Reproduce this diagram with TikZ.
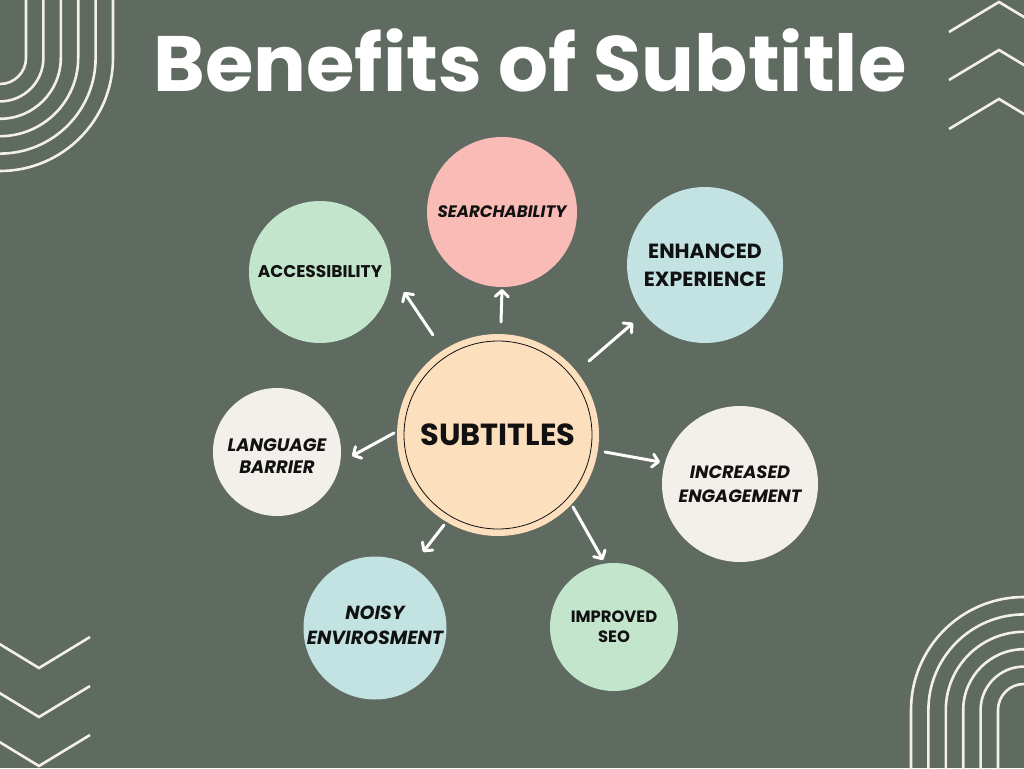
\documentclass[tikz,border=0pt]{standalone}
\usepackage{fontspec}
\setmainfont{Poppins}
\usetikzlibrary{arrows.meta}
\definecolor{bg}{HTML}{5F6A60}
\definecolor{cream}{HTML}{F3EFEA}
\definecolor{mint}{HTML}{C3E5CC}
\definecolor{pink}{HTML}{F9BBB6}
\definecolor{aqua}{HTML}{C3E3E2}
\definecolor{peach}{HTML}{FCDFBD}
\definecolor{ink}{HTML}{111111}
\tikzset{
  deco/.style={draw=cream, line width=2.6pt},
  bub/.style={circle, inner sep=0pt, align=center, text=ink, font=\bfseries},
  arr/.style={draw=white, line width=3pt, line cap=round,
    -{Straight Barb[length=6pt,width=13pt,round]}},
}
\begin{document}
\begin{tikzpicture}[x=1pt,y=-1pt]
\useasboundingbox (0,0) rectangle (1024,768);
\fill[bg] (0,0) rectangle (1024,768);
\begin{scope}
\clip (0,0) rectangle (1024,768);
\foreach \r in {26,43.4,60.8,78.2,95.6,113}{
  \draw[deco] (\r,-5) -- (\r,58) arc[start angle=0,end angle=90,radius=\r];
  \draw[deco] (1024-\r,775) -- (1024-\r,710) arc[start angle=180,end angle=270,radius=\r];
}
\foreach \a in {2,50,99}{
  \draw[deco] (949,\a+30) -- (999,\a) -- (1049,\a+30);
}
\foreach \a in {668,717,766}{
  \draw[deco] (-12,\a-31) -- (39,\a) -- (90,\a-31);
}
\end{scope}

\node[text=white, font=\fontsize{78.5}{84}\selectfont\bfseries] (title) at (530,60) {Benefits of Subtitle};

\node[circle, fill=peach, minimum size=202pt] (sub) at (498,435) {};
\node[bub, draw=ink, line width=0.8pt, minimum size=188pt, font=\fontsize{30.5}{34}\selectfont\bfseries] (subt) at (498,435) {SUBTITLES};

\node[bub, fill=mint, minimum size=142pt, font=\fontsize{17}{20}\selectfont\bfseries] (acc) at (320,272) {ACCESSIBILITY};
\node[bub, fill=pink, minimum size=150pt, font=\fontsize{16.6}{20}\selectfont\bfseries\itshape] (sea) at (502,212) {SEARCHABILITY};
\node[bub, fill=aqua, minimum size=156pt, font=\fontsize{20.5}{28}\selectfont\bfseries] (enh) at (705,265) {ENHANCED\\EXPERIENCE};
\node[bub, fill=cream, minimum size=128pt, font=\fontsize{18}{22}\selectfont\bfseries\itshape] (lan) at (277,452) {};
\node[bub, font=\fontsize{18}{22}\selectfont\bfseries\itshape] (lant) at (277,456) {LANGUAGE\\BARRIER};
\node[bub, fill=cream, minimum size=156pt, font=\fontsize{17.8}{24}\selectfont\bfseries\itshape] (inc) at (740,484) {INCREASED\\ENGAGEMENT};
\node[bub, fill=mint, minimum size=128pt, font=\fontsize{16.4}{20}\selectfont\bfseries] (imp) at (614,627) {IMPROVED\\SEO};
\node[bub, fill=aqua, minimum size=143pt] (noi) at (375,628) {};
\node[bub, font=\fontsize{19}{25}\selectfont\bfseries\itshape] (noit) at (375,625) {NOISY\\ENVIROSMENT};

\coordinate (t1) at (433,335); \coordinate (h1) at (404,292);
\coordinate (t2) at (501,322); \coordinate (h2) at (502,289);
\coordinate (t3) at (589,361); \coordinate (h3) at (633,323);
\coordinate (t4) at (394,433); \coordinate (h4) at (352,456);
\coordinate (t5) at (444,525); \coordinate (h5) at (423,552);
\coordinate (t6) at (605,452); \coordinate (h6) at (660,462);
\coordinate (t7) at (573,507); \coordinate (h7) at (603,560);
\draw[arr] (t1) -- (h1);
\draw[arr] (t2) -- (h2);
\draw[arr] (t3) -- (h3);
\draw[arr] (t4) -- (h4);
\draw[arr] (t5) -- (h5);
\draw[arr] (t6) -- (h6);
\draw[arr] (t7) -- (h7);
\end{tikzpicture}
\end{document}
